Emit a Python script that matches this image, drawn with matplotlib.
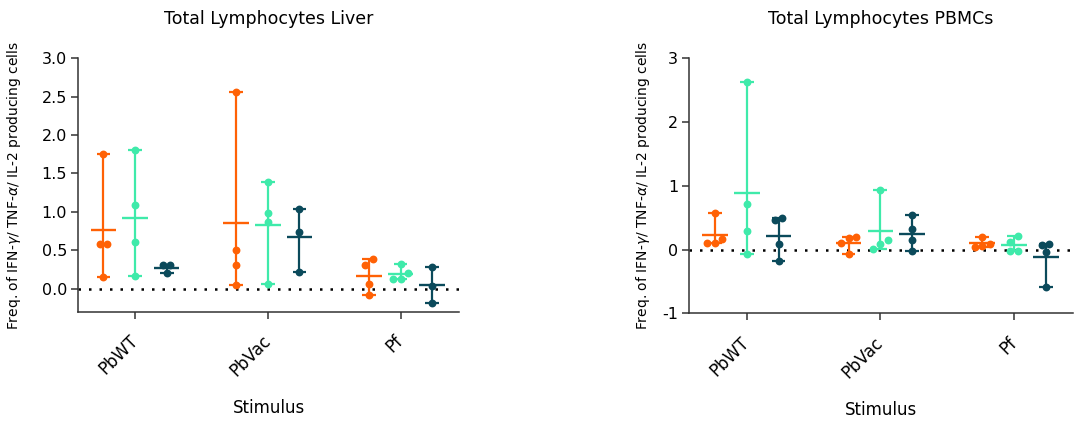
import numpy as np
import matplotlib
matplotlib.use("Agg")
import matplotlib.pyplot as plt

plt.rcParams['font.family'] = ['DejaVu Sans']
plt.rcParams['axes.unicode_minus'] = False
plt.rcParams['mathtext.fontset'] = 'dejavusans'

# ---------------- data ----------------
categories = ["PbWT", "PbVac", "Pf"]
series_colors = ["#FF6105", "#3FEAAA", "#0B4A5B"]

# Liver panel: values per category for each of three series
liver_orange = [[1.76, 0.58, 0.58, 0.15], [2.56, 0.51, 0.31, 0.05], [0.38, 0.31, 0.06, -0.08]]
liver_mint = [[1.80, 1.09, 0.61, 0.16], [1.39, 0.99, 0.87, 0.06], [0.32, 0.20, 0.13, 0.13]]
liver_dark = [[0.31, 0.31, 0.20], [1.04, 0.74, 0.22], [0.28, 0.04, -0.19]]

# PBMC panel
pbmc_orange = [[0.57, 0.16, 0.10, 0.11], [0.18, 0.20, 0.11, -0.07], [0.20, 0.08, 0.06, 0.04]]
pbmc_mint = [[2.63, 0.71, 0.29, -0.07], [0.93, 0.156, 0.09, 0.01], [0.21, 0.12, -0.02, -0.02]]
pbmc_dark = [[0.46, 0.49, 0.08, -0.18], [0.54, 0.32, 0.146, -0.02], [0.08, 0.07, -0.04, -0.58]]

liver_title = "Total Lymphocytes Liver"
pbmc_title = "Total Lymphocytes PBMCs"
ylabel = r"Freq. of IFN-$\gamma$/ TNF-$\alpha$/ IL-2 producing cells"
xlabel = "Stimulus"
liver_yticks = [0.0, 0.5, 1.0, 1.5, 2.0, 2.5, 3.0]
pbmc_yticks = [-1, 0, 1, 2, 3]

# ---------------- figure ----------------
W, H = 1074, 421
fig = plt.figure(figsize=(W / 100, H / 100), dpi=100)

def px_axes(x0, x1, ytop, ybot):
    return fig.add_axes([x0 / W, 1 - ybot / H, (x1 - x0) / W, (ybot - ytop) / H])

ax1 = px_axes(78, 459, 58.3, 311.7)
ax2 = px_axes(689.3, 1072.7, 58.3, 313.3)

spine_col = "#333333"
offsets = [-0.238, 0.0, 0.238]


def swarm_offsets(ax, values, thresh_px=6.0, step_px=7.5):
    values = np.asarray(values, dtype=float)
    ys = ax.transData.transform(np.column_stack([np.zeros(len(values)), values]))[:, 1]
    order = list(np.argsort(ys))
    groups, cur = [], [order[0]]
    for a, b in zip(order[:-1], order[1:]):
        if ys[b] - ys[a] < thresh_px:
            cur.append(b)
        else:
            groups.append(cur)
            cur = [b]
    groups.append(cur)
    p0 = ax.transData.transform([[0, 0]])[0, 0]
    p1 = ax.transData.transform([[1, 0]])[0, 0]
    ppu = p1 - p0
    offs = np.zeros(len(values))
    for g in groups:
        n = len(g)
        for i, idx in enumerate(g):
            offs[idx] = (i - (n - 1) / 2) * step_px / ppu
    return offs


def draw_panel(ax, series, ylim, yticks, fmt, title, ylab_x):
    ax.set_xlim(-0.43, 2.44)
    ax.set_ylim(*ylim)
    for s in ["top", "right"]:
        ax.spines[s].set_visible(False)
    for s in ["left", "bottom"]:
        ax.spines[s].set_color(spine_col)
        ax.spines[s].set_linewidth(1.1)
    ax.axhline(0, color="black", linestyle=(0, (1, 3.2)), linewidth=1.8, zorder=1)
    for si, (data, col) in enumerate(zip(series, series_colors)):
        for ci, vals in enumerate(data):
            xc = ci + offsets[si]
            vals = np.asarray(vals)
            m, lo, hi = vals.mean(), vals.min(), vals.max()
            offs = swarm_offsets(ax, vals)
            ax.scatter(xc + offs, vals, s=32, color=col, zorder=3, linewidths=0)
            ax.plot([xc, xc], [lo, hi], color=col, lw=1.6, zorder=4, solid_capstyle="butt")
            for v in (lo, hi):
                ax.plot([xc - 0.052, xc + 0.052], [v, v], color=col, lw=1.6, zorder=4,
                        solid_capstyle="butt")
            ax.plot([xc - 0.096, xc + 0.096], [m, m], color=col, lw=1.7, zorder=5,
                    solid_capstyle="butt")
    ax.set_xticks(range(len(categories)))
    ax.set_xticklabels(categories, rotation=45, ha="right", va="center",
                       rotation_mode="anchor", fontsize=12)
    ax.set_yticks(yticks)
    ax.set_yticklabels([fmt.format(t) for t in yticks], fontsize=11.5)
    ax.tick_params(axis="both", direction="out", length=5, width=1.1, color=spine_col)
    ax.tick_params(axis="x", pad=14)
    ax.tick_params(axis="y", pad=3)
    ax.set_title(title, fontsize=12.5, pad=25)
    ax.set_xlabel(xlabel, fontsize=12)
    ax.xaxis.set_label_coords(0.5, -0.345)
    ax.set_ylabel(ylabel, fontsize=10)
    ax.yaxis.set_label_coords(ylab_x, 0.5)


draw_panel(ax1, [liver_orange, liver_mint, liver_dark], (-0.3, 3.0), liver_yticks,
           "{:.1f}", liver_title, -0.145)
draw_panel(ax2, [pbmc_orange, pbmc_mint, pbmc_dark], (-1, 3), pbmc_yticks,
           "{:d}", pbmc_title, -0.098)

fig.savefig("out.png", dpi=100)
